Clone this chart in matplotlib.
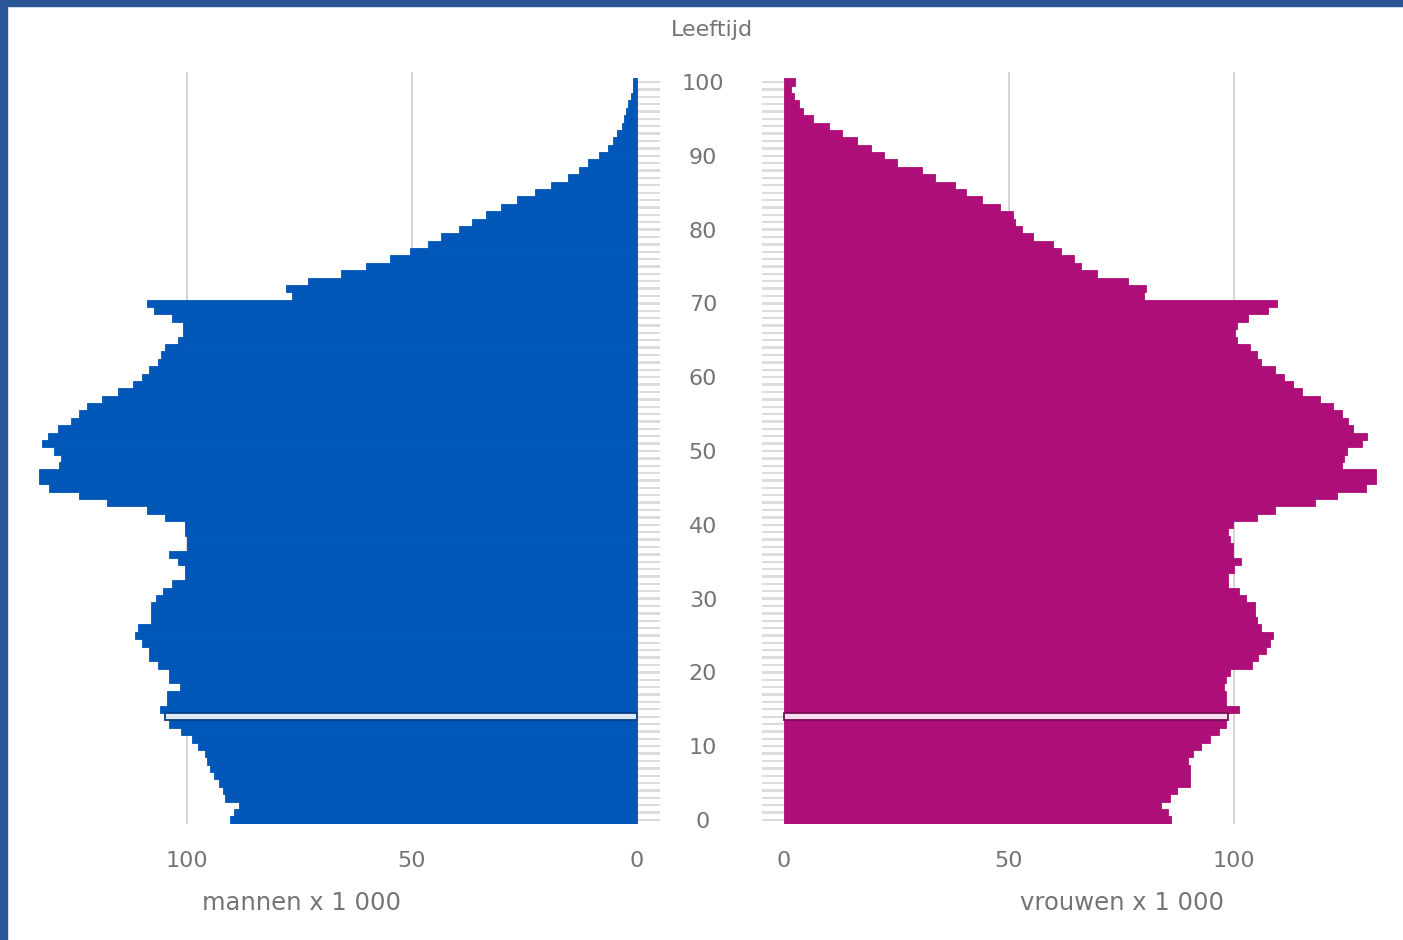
import matplotlib
matplotlib.use('Agg')
import matplotlib.pyplot as plt
from matplotlib.patches import Rectangle

# ---------------- data (x 1 000 persons, by age 0..100) ----------------
ages = list(range(0, 101))
men = [90.5, 89.5, 88.5, 91.5, 92.0, 93.0, 94.0, 95.0, 95.5, 96.0,
       97.5, 99.0, 101.4, 104.0, 105.0, 106.0, 104.4, 104.4, 101.5, 104.0,
       104.0, 106.4, 108.4, 108.5, 110.0, 111.5, 111.0, 108.0, 108.0, 108.0,
       107.0, 105.4, 103.4, 100.5, 100.5, 102.0, 104.0, 100.0, 100.0, 100.5,
       100.5, 105.0, 109.0, 117.8, 124.0, 130.7, 133.0, 133.0, 128.5, 128.0,
       129.5, 132.3, 131.0, 128.7, 125.7, 124.0, 122.3, 118.8, 115.3, 112.0,
       110.0, 108.4, 106.4, 105.7, 105.0, 102.0, 101.0, 101.0, 103.4, 107.4,
       109.0, 76.7, 78.0, 73.2, 65.8, 60.3, 54.9, 50.4, 46.5, 43.5,
       39.6, 36.6, 33.6, 30.2, 26.7, 22.7, 19.2, 15.3, 12.8, 10.8,
       8.4, 6.4, 5.4, 4.4, 3.4, 2.9, 2.4, 1.9, 1.4, 0.9,
       0.9]
women = [86.0, 85.3, 83.8, 85.8, 87.3, 90.3, 90.3, 90.3, 89.8, 90.8,
         92.7, 94.7, 96.7, 98.2, 98.7, 101.2, 98.2, 98.2, 97.7, 98.2,
         99.2, 104.1, 105.3, 107.1, 108.1, 108.6, 106.1, 105.1, 104.6, 104.6,
         102.6, 101.1, 98.7, 98.7, 100.0, 101.6, 99.7, 99.7, 99.2, 98.7,
         99.7, 105.1, 109.1, 117.9, 122.9, 129.4, 131.5, 131.5, 124.0, 124.5,
         125.0, 128.5, 129.5, 126.4, 125.4, 124.0, 122.0, 119.0, 115.0, 113.0,
         111.1, 109.1, 106.1, 105.1, 103.6, 100.7, 100.2, 100.7, 103.1, 107.6,
         109.6, 79.9, 80.5, 76.4, 69.5, 66.0, 64.5, 61.5, 59.8, 55.4,
         52.9, 51.4, 50.9, 48.0, 44.0, 40.5, 38.1, 33.6, 30.6, 25.1,
         22.2, 19.3, 16.3, 12.8, 10.0, 6.5, 4.3, 3.3, 2.3, 1.6,
         2.4]
highlight_age = 14
age_ticks = list(range(0, 101, 10))
x_ticks = [0, 50, 100]
x_tick_labels = ['0', '50', '100']
title = 'Leeftijd'
men_label = 'mannen x 1 000'
women_label = 'vrouwen x 1 000'

# ---------------- styling ----------------
W, H = 1403, 940
MEN_COL = '#0157b7'
WOMEN_COL = '#ae0e78'
MEN_HI_FACE, MEN_HI_EDGE = '#dde9f6', '#0a3f88'
WOMEN_HI_FACE, WOMEN_HI_EDGE = '#f7dcee', '#7a0b55'
GRID_COL = '#d2d2d2'
DASH_COL = '#dcdcdc'
TEXT_COL = '#747474'
FRAME_COL = '#2a5699'

plt.rcParams['font.family'] = ['DejaVu Sans']

fig = plt.figure(figsize=(W / 100, H / 100), dpi=100)
fig.patch.set_facecolor('white')


def fx(px):
    return px / W


def fy(py):
    return 1 - py / H


bottom_px, top_px = 823.7, 72.4
ax_b = fy(bottom_px)
ax_h = fy(top_px) - fy(bottom_px)

axL = fig.add_axes([fx(8), ax_b, fx(662) - fx(8), ax_h])
axR = fig.add_axes([fx(760), ax_b, fx(1398) - fx(760), ax_h])

axL.set_xlim((637 - 8) / 4.5, (637 - 662) / 4.5)
axR.set_xlim((760 - 784) / 4.5, (1398 - 784) / 4.5)
for ax in (axL, axR):
    ax.set_ylim(-0.5, 101.3)
    for s in ax.spines.values():
        s.set_visible(False)
    ax.set_facecolor('none')
    for g in (50, 100):
        ax.axvline(g, color=GRID_COL, lw=1.3, zorder=0)


def draw_side(ax, values, col, hi_face, hi_edge, dash_len):
    faces = [hi_face if a == highlight_age else col for a in ages]
    edges = [hi_edge if a == highlight_age else col for a in ages]
    lws = [1.3 if a == highlight_age else 0.6 for a in ages]
    bars = ax.barh(ages, values, height=1.0, color=faces, edgecolor=edges,
                   linewidth=lws, zorder=2)
    bars[ages.index(highlight_age)].set_zorder(3)
    ax.barh(ages, [dash_len] * len(ages), height=0.32, color=DASH_COL,
            linewidth=0, zorder=1)


draw_side(axL, men, MEN_COL, MEN_HI_FACE, MEN_HI_EDGE, -5.1)
draw_side(axR, women, WOMEN_COL, WOMEN_HI_FACE, WOMEN_HI_EDGE, -4.9)

# x ticks
for ax in (axL, axR):
    ax.set_xticks(x_ticks, x_tick_labels)
    ax.tick_params(axis='x', length=0, pad=20, labelsize=16, labelcolor=TEXT_COL)

# age labels in the centre column
axL.yaxis.set_ticks_position('right')
axL.set_yticks(age_ticks, [str(a) for a in age_ticks])
axL.tick_params(axis='y', length=0, pad=29.5, labelsize=16, labelcolor=TEXT_COL)
for lab in axL.get_yticklabels():
    lab.set_horizontalalignment('center')
axR.set_yticks([])

fig.text(fx(712), fy(30), title, ha='center', va='center', fontsize=16,
         color=TEXT_COL)
fig.text(fx(301), fy(903), men_label, ha='center', va='center', fontsize=17.5,
         color=TEXT_COL)
fig.text(fx(1122), fy(903), women_label, ha='center', va='center', fontsize=17.5,
         color=TEXT_COL)

# blue frame at left and top
fig.patches.append(Rectangle((0, 0), fx(7), 1, transform=fig.transFigure,
                             color=FRAME_COL, zorder=10))
fig.patches.append(Rectangle((0, fy(6)), 1, 6 / H, transform=fig.transFigure,
                             color=FRAME_COL, zorder=10))

fig.savefig('out.png', dpi=100, facecolor='white')
